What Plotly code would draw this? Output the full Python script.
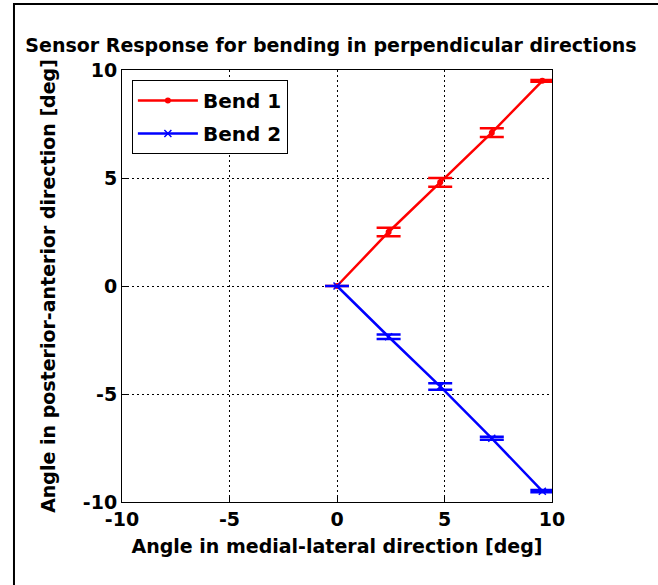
import plotly.graph_objects as go

# Data
bend1_x = [0.0, 2.4, 4.8, 7.2, 9.55]
bend1_y = [0.0, 2.5, 4.8, 7.1, 9.5]
bend1_err = [0.0, 0.2, 0.2, 0.2, 0.04]

bend2_x = [0.0, 2.4, 4.8, 7.2, 9.55]
bend2_y = [0.0, -2.35, -4.65, -7.05, -9.5]
bend2_err = [0.0, 0.1, 0.15, 0.07, 0.05]

x_ticks = [-10, -5, 0, 5, 10]
y_ticks = [-10, -5, 0, 5, 10]

title_text = "Sensor Response for bending in perpendicular directions"
x_title = "Angle in medial-lateral direction [deg]"
y_title = "Angle in posterior-anterior direction [deg]"

FONT = "DejaVu Sans, Arial, sans-serif"

fig = go.Figure()
fig.add_trace(go.Scatter(
    x=bend1_x, y=bend1_y, mode="lines+markers", name="Bend 1", legendgroup="b1",
    line=dict(color="#ff0000", width=2.5),
    marker=dict(symbol="circle", size=6, color="#ff0000"),
    error_y=dict(type="data", array=bend1_err, color="#ff0000", thickness=2.5, width=12),
))
fig.add_trace(go.Scatter(
    x=bend2_x, y=bend2_y, mode="lines+markers", name="Bend 2", legendgroup="b2",
    line=dict(color="#0000ff", width=2.5),
    marker=dict(symbol="x-thin", size=7, color="#0000ff", line=dict(color="#0000ff", width=1.5)),
    error_y=dict(type="data", array=bend2_err, color="#0000ff", thickness=2.5, width=12),
))

axis_common = dict(
    showline=True, linecolor="black", linewidth=1, mirror=True,
    ticks="inside", ticklen=5, tickcolor="black",
    showgrid=True, gridcolor="black", gridwidth=1, griddash="2px,3px",
    zeroline=False,
    tickfont=dict(family=FONT, size=19, color="black", weight="bold"),
)

fig.update_xaxes(range=[-10, 10], tickvals=x_ticks, ticktext=[str(v) for v in x_ticks],
                 title=dict(text=x_title, font=dict(family=FONT, size=19, color="black", weight="bold"), standoff=10),
                 **axis_common)
fig.update_yaxes(range=[-10, 10], tickvals=y_ticks, ticktext=[str(v) for v in y_ticks],
                 title=dict(text=y_title, font=dict(family=FONT, size=19, color="black", weight="bold"), standoff=22),
                 **axis_common)

fig.update_layout(
    width=658, height=585,
    margin=dict(l=122, r=106, t=70, b=83),
    paper_bgcolor="white", plot_bgcolor="white",
    title=dict(text=title_text, x=0.503, xanchor="center", y=0.923, yanchor="middle",
               font=dict(family=FONT, size=19, color="black", weight="bold")),
    showlegend=True,
    legend=dict(x=0.023, y=0.977, xanchor="left", yanchor="top",
                bgcolor="white", bordercolor="black", borderwidth=1,
                font=dict(family=FONT, size=20, color="black", weight="bold"),
                itemwidth=60, tracegroupgap=4),
    shapes=[
        dict(type="line", xref="paper", yref="paper", x0=-0.2512, x1=1.3, y0=1.153, y1=1.153,
             line=dict(color="black", width=2)),
        dict(type="line", xref="paper", yref="paper", x0=-0.2512, x1=-0.2512, y0=1.155, y1=-0.2,
             line=dict(color="black", width=2)),
    ],
)

fig.write_html("out.html", config={"displayModeBar": False},
               post_script="document.body.style.margin='0px';")
